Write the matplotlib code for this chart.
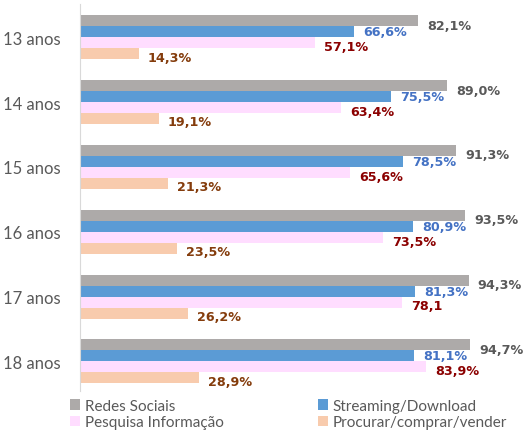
import matplotlib.pyplot as plt
import numpy as np

plt.rcParams['font.family'] = ['Lato', 'DejaVu Sans']

idades = ['13 anos', '14 anos', '15 anos', '16 anos', '17 anos', '18 anos']
series = ['Redes Sociais', 'Streaming/Download', 'Pesquisa Informação', 'Procurar/comprar/vender']
redes = [82.1, 89.0, 91.3, 93.5, 94.3, 94.7]
streaming = [66.6, 75.5, 78.5, 80.9, 81.3, 81.1]
pesquisa = [57.1, 63.4, 65.6, 73.5, 78.1, 83.9]
procurar = [14.3, 19.1, 21.3, 23.5, 26.2, 28.9]
rotulos_pesquisa = ['57,1%', '63,4%', '65,6%', '73,5%', '78,1', '83,9%']

cores = ['#ADAAA9', '#5B9BD5', '#FFDDFF', '#F8CBAD']
cores_txt = ['#595959', '#4472C4', '#8B0000', '#843C0C']

fig = plt.figure(figsize=(5.23, 4.31), dpi=100)
ax = fig.add_axes([0.153, 0.09, 0.847, 0.898])

y = np.arange(len(idades))
h = 0.17
valores = [redes, streaming, pesquisa, procurar]
desloc = [0.07, 0.0, 0.06, 0.05]  # rotulos um pouco abaixo do centro, como no Excel
barras = []
for i, (vals, nome) in enumerate(zip(valores, series)):
    pos = y - 1.5 * h + i * h
    b = ax.barh(pos, vals, height=h, color=cores[i], label=nome, edgecolor='none')
    barras.append(b)
    for j, (p, v) in enumerate(zip(pos, vals)):
        if i == 2:
            txt = rotulos_pesquisa[j]
        else:
            txt = f'{v:.1f}%'.replace('.', ',')
        ax.text(v + 2.2, p + desloc[i], txt, va='center', ha='left', fontsize=9.2,
                fontweight='bold', color=cores_txt[i], family='DejaVu Sans')

ax.set_xlim(0, 107.5)
ax.set_ylim(5.46, -0.51)
ax.set_yticks(y)
ax.set_yticklabels(idades, fontsize=12, color='#595959')
ax.tick_params(axis='y', length=0, pad=14)
ax.set_xticks([])
for s in ['top', 'right', 'bottom']:
    ax.spines[s].set_visible(False)
ax.spines['left'].set_color('#D9D9D9')

# ordem por linhas, como no original
ordem = [0, 2, 1, 3]
leg = fig.legend([barras[k] for k in ordem], [series[k] for k in ordem],
                 loc='lower left', bbox_to_anchor=(0.108, -0.03), ncol=2,
                 frameon=False, fontsize=11, handlelength=0.65, handleheight=0.65,
                 handletextpad=0.3, columnspacing=6.2, labelspacing=0.15)
for t in leg.get_texts():
    t.set_color('#595959')

fig.savefig('out.png', dpi=100)
